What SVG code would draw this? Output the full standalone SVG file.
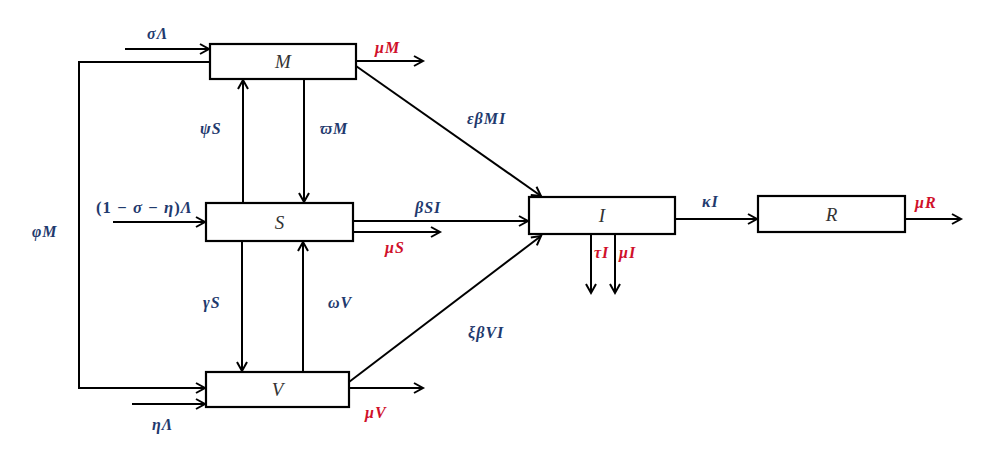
<svg xmlns="http://www.w3.org/2000/svg" width="989" height="449" viewBox="0 0 989 449">
<style>
.box{fill:#fff;stroke:#000;stroke-width:2.2}
.ln{fill:none;stroke:#000;stroke-width:2}
.arr{marker-end:url(#ah)}
.nl{font-family:"Liberation Serif","DejaVu Serif",serif;font-style:italic;font-size:19px;fill:#333;text-anchor:middle}
.lb{font-family:"Liberation Serif","DejaVu Serif",serif;font-style:italic;font-weight:bold;font-size:16px;letter-spacing:1px;fill:#1F3A6E}
.lr{font-family:"Liberation Serif","DejaVu Serif",serif;font-style:italic;font-weight:bold;font-size:16px;letter-spacing:1px;fill:#D0102A}
.up{font-style:normal}
</style>
<defs>
<marker id="ah" markerUnits="userSpaceOnUse" markerWidth="14" markerHeight="14" refX="10" refY="6" orient="auto">
<path d="M1,1 L10,6 L1,11" fill="none" stroke="#000" stroke-width="2"/>
</marker>
</defs>
<g id="connectors">
<line class="ln arr" x1="125" y1="49" x2="209" y2="49"/>
<polyline class="ln arr" points="210,62 79,62 79,388 205,388"/>
<line class="ln arr" x1="356" y1="61" x2="423" y2="61"/>
<line class="ln arr" x1="243" y1="203" x2="243" y2="80"/>
<line class="ln arr" x1="304" y1="79" x2="304" y2="202"/>
<line class="ln arr" x1="113" y1="222" x2="205" y2="222"/>
<line class="ln arr" x1="353" y1="221" x2="528" y2="221"/>
<line class="ln arr" x1="353" y1="232" x2="440" y2="232"/>
<line class="ln arr" x1="242" y1="241" x2="242" y2="371"/>
<line class="ln arr" x1="303" y1="372" x2="303" y2="242"/>
<line class="ln arr" x1="132" y1="404" x2="205" y2="404"/>
<line class="ln arr" x1="349" y1="388" x2="423" y2="388"/>
<line class="ln arr" x1="356" y1="66" x2="541" y2="196"/>
<line class="ln arr" x1="349" y1="382" x2="541" y2="236"/>
<line class="ln arr" x1="591" y1="234" x2="591" y2="293"/>
<line class="ln arr" x1="615" y1="234" x2="615" y2="293"/>
<line class="ln arr" x1="675" y1="219" x2="757" y2="219"/>
<line class="ln arr" x1="905" y1="219" x2="961" y2="219"/>
</g>
<g id="node-M"><rect class="box" x="210" y="44" width="146" height="35"/><text class="nl" x="283" y="68">M</text></g>
<g id="node-S"><rect class="box" x="206" y="203" width="147" height="38"/><text class="nl" x="279.5" y="229">S</text></g>
<g id="node-V"><rect class="box" x="206" y="372" width="143" height="35"/><text class="nl" x="277.5" y="396">V</text></g>
<g id="node-I"><rect class="box" x="529" y="197" width="146" height="37"/><text class="nl" x="602" y="222">I</text></g>
<g id="node-R"><rect class="box" x="758" y="196" width="147" height="36"/><text class="nl" x="831.5" y="221">R</text></g>
<g id="labels">
<text class="lb" x="147" y="39">σΛ</text>
<text class="lr" x="375" y="53">μM</text>
<text class="lb" x="200" y="134">ψS</text>
<text class="lb" x="320" y="134">ϖM</text>
<text class="lb" x="96" y="213" textLength="97" lengthAdjust="spacingAndGlyphs"><tspan class="up">(1 −</tspan> σ <tspan class="up">−</tspan> η<tspan class="up">)</tspan>Λ</text>
<text class="lb" x="415" y="213">βSI</text>
<text class="lr" x="385" y="253">μS</text>
<text class="lb" x="203" y="308">γS</text>
<text class="lb" x="328" y="308">ωV</text>
<text class="lb" x="152" y="430">ηΛ</text>
<text class="lr" x="365" y="418">μV</text>
<text class="lb" x="467" y="124">εβMI</text>
<text class="lb" x="468" y="338">ξβVI</text>
<text class="lr" x="594" y="258">τI</text>
<text class="lr" x="619" y="258">μI</text>
<text class="lb" x="702" y="207">κI</text>
<text class="lr" x="915" y="208">μR</text>
<text class="lb" x="32" y="237">φM</text>
</g>
</svg>
